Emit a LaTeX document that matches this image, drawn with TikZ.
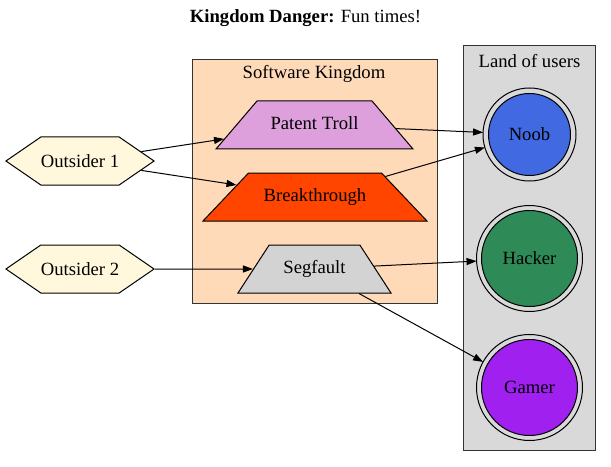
\documentclass[tikz,border=0pt]{standalone}
\usepackage{fontspec}
\setmainfont{Liberation Serif}
\usetikzlibrary{shapes.geometric,shapes.symbols,arrows.meta}
\definecolor{peach}{HTML}{FFDAB9}
\definecolor{landgray}{HTML}{D9D9D9}
\definecolor{plumc}{HTML}{DDA0DD}
\definecolor{orangeredc}{HTML}{FF4500}
\definecolor{lightgrayc}{HTML}{D3D3D3}
\definecolor{cornsilkc}{HTML}{FFF8DC}
\definecolor{royalbluec}{HTML}{4169E1}
\definecolor{seagreenc}{HTML}{2E8B57}
\definecolor{purplec}{HTML}{A020F0}
\definecolor{clusterpen}{HTML}{333333}
\begin{document}
\begin{tikzpicture}[x=0.75pt,y=-0.75pt,line width=0.75pt,
  font=\fontsize{14pt}{16pt}\selectfont,
  cluster/.style={draw=clusterpen},
  hexa/.style={signal, signal to=west and east, signal pointer angle=69, draw, fill=cornsilkc,
    minimum width=108pt, minimum height=36pt, inner sep=0pt},
  trap/.style={trapezium, trapezium stretches body, draw, inner xsep=0pt, inner ysep=11.5pt,
    text height=10pt, text depth=3pt},
  user/.style={circle, draw, inner sep=0pt},
  edge/.style={-{Triangle[length=7.5pt,width=5.25pt]}}]
\useasboundingbox (0,0) rectangle (611,467);
% title
\node (title) at (305.5,18) {\textbf{Kingdom Danger:} Fun times!};
% clusters
\draw[cluster, fill=peach] (192,60) rectangle (437,303);
\node (sklabel) at (314,74) {Software Kingdom};
\draw[cluster, fill=landgray] (463,46) rectangle (595,450);
\node (lulabel) at (529.5,61) {Land of users};
% outsiders
\node[hexa] (o1) at (80,161) {Outsider 1};
\node[hexa] (o2) at (80,269) {Outsider 2};
% kingdom
\node[trap, fill=plumc, minimum width=147.75pt, trapezium angle=49.5] (pt) at (314.5,125) {Patent Troll};
\node[trap, fill=orangeredc, minimum width=168pt, trapezium angle=46.5] (bt) at (315,197) {Breakthrough};
\node[trap, fill=lightgrayc, minimum width=114.75pt, trapezium angle=57] (sf) at (314.5,269) {Segfault};
% users
\node[user, fill=royalbluec, minimum size=61.5pt, outer sep=4.1pt] (noob) at (529.5,134.5) {Noob};
\draw (noob.center) circle[radius=34.875pt];
\node[user, fill=seagreenc, minimum size=72pt, outer sep=3.75pt] (hacker) at (529.5,258.5) {Hacker};
\draw (hacker.center) circle[radius=39.75pt];
\node[user, fill=purplec, minimum size=72pt, outer sep=3.75pt] (gamer) at (529.5,387.5) {Gamer};
\draw (gamer.center) circle[radius=39.75pt];
% edges
\draw[edge] (o1) -- (pt);
\draw[edge] (o1) -- (bt);
\draw[edge] (o2) -- (sf);
\draw[edge] (pt) -- (noob);
\draw[edge] (bt) -- (noob);
\draw[edge] (sf) -- (hacker);
\draw[edge] (sf) -- (gamer);
\end{tikzpicture}
\end{document}
